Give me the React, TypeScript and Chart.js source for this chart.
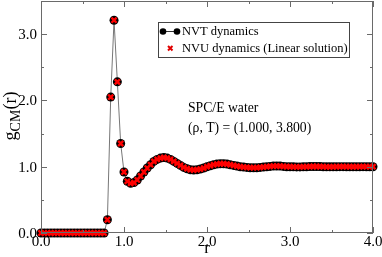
import React, { useEffect, useRef } from "react";
import { Chart, registerables } from "chart.js";

Chart.register(...registerables);

const rValues = [
  0.0, 0.04, 0.08, 0.12, 0.16, 0.2, 0.24, 0.28, 0.32, 0.36,
  0.4, 0.44, 0.48, 0.52, 0.56, 0.6, 0.64, 0.68, 0.72, 0.76,
  0.8, 0.84, 0.88, 0.92, 0.96, 1.0, 1.04, 1.08, 1.12, 1.16,
  1.2, 1.24, 1.28, 1.32, 1.36, 1.4, 1.44, 1.48, 1.52, 1.56,
  1.6, 1.64, 1.68, 1.72, 1.76, 1.8, 1.84, 1.88, 1.92, 1.96,
  2.0, 2.04, 2.08, 2.12, 2.16, 2.2, 2.24, 2.28, 2.32, 2.36,
  2.4, 2.44, 2.48, 2.52, 2.56, 2.6, 2.64, 2.68, 2.72, 2.76,
  2.8, 2.84, 2.88, 2.92, 2.96, 3.0, 3.04, 3.08, 3.12, 3.16,
  3.2, 3.24, 3.28, 3.32, 3.36, 3.4, 3.44, 3.48, 3.52, 3.56,
  3.6, 3.64, 3.68, 3.72, 3.76, 3.8, 3.84, 3.88, 3.92, 3.96,
  4.0,
];

const gNVT = [
  0, 0, 0, 0, 0, 0, 0, 0, 0, 0,
  0, 0, 0, 0, 0, 0, 0, 0, 0, 0,
  0.2, 2.05, 3.21, 2.28, 1.35, 0.92, 0.78, 0.75, 0.76, 0.8,
  0.86, 0.92, 0.98, 1.03, 1.08, 1.11, 1.13, 1.14, 1.13, 1.11,
  1.08, 1.05, 1.02, 0.99, 0.97, 0.955, 0.95, 0.955, 0.965, 0.98,
  1.0, 1.015, 1.03, 1.04, 1.045, 1.045, 1.04, 1.03, 1.02, 1.01,
  1.0, 0.995, 0.99, 0.985, 0.985, 0.985, 0.99, 0.995, 1.0, 1.005,
  1.01, 1.01, 1.01, 1.005, 1.0, 1.0, 0.998, 0.997, 0.997, 0.998,
  1.0, 1.002, 1.003, 1.003, 1.002, 1.0, 0.999, 0.998, 0.999, 1.0,
  1.001, 1.001, 1.0, 1.0, 0.999, 1.0, 1.0, 1.001, 1.0, 1.0,
  1.0,
];

const gNVU = [
  0, 0, 0, 0, 0, 0, 0, 0, 0, 0,
  0, 0, 0, 0, 0, 0, 0, 0, 0, 0,
  0.2, 2.05, 3.21, 2.28, 1.35, 0.92, 0.78, 0.75, 0.76, 0.8,
  0.86, 0.92, 0.98, 1.03, 1.08, 1.11, 1.13, 1.14, 1.13, 1.11,
  1.08, 1.05, 1.02, 0.99, 0.97, 0.955, 0.95, 0.955, 0.965, 0.98,
  1.0, 1.015, 1.03, 1.04, 1.045, 1.045, 1.04, 1.03, 1.02, 1.01,
  1.0, 0.995, 0.99, 0.985, 0.985, 0.985, 0.99, 0.995, 1.0, 1.005,
  1.01, 1.01, 1.01, 1.005, 1.0, 1.0, 0.998, 0.997, 0.997, 0.998,
  1.0, 1.002, 1.003, 1.003, 1.002, 1.0, 0.999, 0.998, 0.999, 1.0,
  1.001, 1.001, 1.0, 1.0, 0.999, 1.0, 1.0, 1.001, 1.0, 1.0,
  1.0,
];

const xMajorTicks = [0, 1, 2, 3, 4];
const xMinorTicks = [0.5, 1.5, 2.5, 3.5];
const yMajorTicks = [0, 1, 2, 3];
const yMinorTicks = [0.5, 1.5, 2.5];
const yTickLabels = ["0.0", "1.0", "2.0", "3.0"];

const seriesLabels = ["NVT dynamics", "NVU dynamics (Linear solution)"];
const annotationLines = ["SPC/E water", "(\u03c1, T) = (1.000, 3.800)"];
const xTitle = "r";
const yTitleParts = ["g", "CM", "(r)"];

const SERIF = "'Liberation Serif', 'DejaVu Serif', serif";
const FRAME = "#6a6a6a";

const decorPlugin = {
  id: "decor",
  afterDraw(chart: any) {
    const ctx = chart.ctx as CanvasRenderingContext2D;
    const { left, right, top, bottom } = chart.chartArea;
    const xs = chart.scales.x;
    const ys = chart.scales.y;
    ctx.save();
    // frame
    ctx.strokeStyle = FRAME;
    ctx.lineWidth = 1;
    ctx.strokeRect(left + 0.5, top + 0.5, right - left - 1, bottom - top - 1);
    // ticks
    const drawX = (v: number, len: number) => {
      const px = Math.round(xs.getPixelForValue(v)) + 0.5;
      ctx.beginPath();
      ctx.moveTo(px, bottom);
      ctx.lineTo(px, bottom - len);
      ctx.moveTo(px, top);
      ctx.lineTo(px, top + len);
      ctx.stroke();
    };
    const drawY = (v: number, len: number) => {
      const py = Math.round(ys.getPixelForValue(v)) + 0.5;
      ctx.beginPath();
      ctx.moveTo(left, py);
      ctx.lineTo(left + len, py);
      ctx.moveTo(right, py);
      ctx.lineTo(right - len, py);
      ctx.stroke();
    };
    xMajorTicks.forEach((v) => drawX(v, 6));
    xMinorTicks.forEach((v) => drawX(v, 3));
    yMajorTicks.forEach((v) => drawY(v, 6));
    yMinorTicks.forEach((v) => drawY(v, 3));

    // y tick labels
    ctx.fillStyle = "#000";
    ctx.font = `15px ${SERIF}`;
    ctx.textAlign = "right";
    ctx.textBaseline = "middle";
    yMajorTicks.forEach((v, i) => {
      ctx.fillText(yTickLabels[i], left - 4, ys.getPixelForValue(v) + 1);
    });

    // x title
    ctx.font = `17px ${SERIF}`;
    ctx.textAlign = "center";
    ctx.textBaseline = "alphabetic";
    ctx.fillText(xTitle, (left + right) / 2, 253);

    // y title (rotated, with subscript)
    ctx.save();
    ctx.translate(16, 116);
    ctx.rotate(-Math.PI / 2);
    ctx.textAlign = "left";
    const bigFont = `18px ${SERIF}`;
    const smallFont = `14px ${SERIF}`;
    ctx.font = bigFont;
    const w0 = ctx.measureText(yTitleParts[0]).width;
    const w2 = ctx.measureText(yTitleParts[2]).width;
    ctx.font = smallFont;
    const w1 = ctx.measureText(yTitleParts[1]).width;
    let x0 = -(w0 + w1 + w2) / 2;
    ctx.font = bigFont;
    ctx.fillText(yTitleParts[0], x0, 0);
    x0 += w0;
    ctx.font = smallFont;
    ctx.fillText(yTitleParts[1], x0, 4);
    x0 += w1;
    ctx.font = bigFont;
    ctx.fillText(yTitleParts[2], x0, 0);
    ctx.restore();

    // legend box
    ctx.strokeStyle = "#444";
    ctx.lineWidth = 1;
    ctx.strokeRect(158.5, 22.5, 191, 35);
    ctx.font = `12.5px ${SERIF}`;
    ctx.textAlign = "left";
    ctx.textBaseline = "middle";
    // row 1
    ctx.strokeStyle = "#333";
    ctx.beginPath();
    ctx.moveTo(163, 31.5);
    ctx.lineTo(177, 31.5);
    ctx.stroke();
    ctx.fillStyle = "#000";
    [163, 177].forEach((cx) => {
      ctx.beginPath();
      ctx.arc(cx, 31.5, 3.3, 0, Math.PI * 2);
      ctx.fill();
    });
    ctx.fillText(seriesLabels[0], 182, 31.5);
    // row 2
    ctx.strokeStyle = "#e00000";
    ctx.lineWidth = 2;
    ctx.beginPath();
    ctx.moveTo(168, 46);
    ctx.lineTo(172.5, 50.5);
    ctx.moveTo(172.5, 46);
    ctx.lineTo(168, 50.5);
    ctx.stroke();
    ctx.fillStyle = "#000";
    ctx.fillText(seriesLabels[1], 182, 48.5);

    // annotation
    ctx.font = `13.7px ${SERIF}`;
    ctx.fillText(annotationLines[0], 188, 108);
    ctx.fillText(annotationLines[1], 188, 128);
    ctx.restore();
  },
};

export default function App() {
  const ref = useRef<HTMLCanvasElement | null>(null);
  useEffect(() => {
    if (!ref.current) return;
    const chart = new Chart(ref.current, {
      type: "line",
      data: {
        datasets: [
          {
            label: seriesLabels[1],
            data: rValues.map((r, i) => ({ x: r, y: gNVU[i] })),
            showLine: false,
            pointStyle: "crossRot",
            pointRadius: 3.6,
            pointBorderColor: "#ff0000",
            pointBorderWidth: 2.4,
            pointBackgroundColor: "#ff0000",
            order: 0,
            clip: 8,
          },
          {
            label: seriesLabels[0],
            data: rValues.map((r, i) => ({ x: r, y: gNVT[i] })),
            borderColor: "#777",
            borderWidth: 1,
            pointStyle: "circle",
            pointRadius: 4.5,
            pointBackgroundColor: "#000",
            pointBorderColor: "#000",
            pointBorderWidth: 0,
            tension: 0,
            order: 1,
            clip: 8,
          },
        ],
      },
      options: {
        animation: false,
        responsive: true,
        maintainAspectRatio: false,
        layout: { autoPadding: false, padding: { left: 0, right: 9, top: 1, bottom: 0 } },
        plugins: {
          legend: { display: false },
          tooltip: { enabled: false },
        },
        scales: {
          x: {
            type: "linear",
            min: 0,
            max: 4,
            afterBuildTicks: (s: any) => {
              s.ticks = xMajorTicks.map((v) => ({ value: v }));
            },
            afterFit: (s: any) => {
              s.height = 24;
              s.paddingLeft = 0;
              s.paddingRight = 0;
            },
            grid: { display: false, drawTicks: false },
            border: { display: false },
            ticks: {
              font: { family: SERIF, size: 15 },
              color: "#000",
              padding: 0,
              maxRotation: 0,
              autoSkip: false,
              callback: (v: any) => Number(v).toFixed(1),
            },
          },
          y: {
            type: "linear",
            min: 0,
            max: 3.5,
            afterBuildTicks: (s: any) => {
              s.ticks = yMajorTicks.map((v) => ({ value: v }));
            },
            afterFit: (s: any) => {
              s.width = 41;
              s.paddingTop = 0;
              s.paddingBottom = 0;
            },
            grid: { display: false, drawTicks: false },
            border: { display: false },
            ticks: { display: false },
          },
        },
      },
      plugins: [decorPlugin],
    });
    return () => chart.destroy();
  }, []);
  return (
    <div style={{ position: "fixed", left: 0, top: 0, width: 382, height: 257, background: "#fff" }}>
      <canvas ref={ref} />
    </div>
  );
}
